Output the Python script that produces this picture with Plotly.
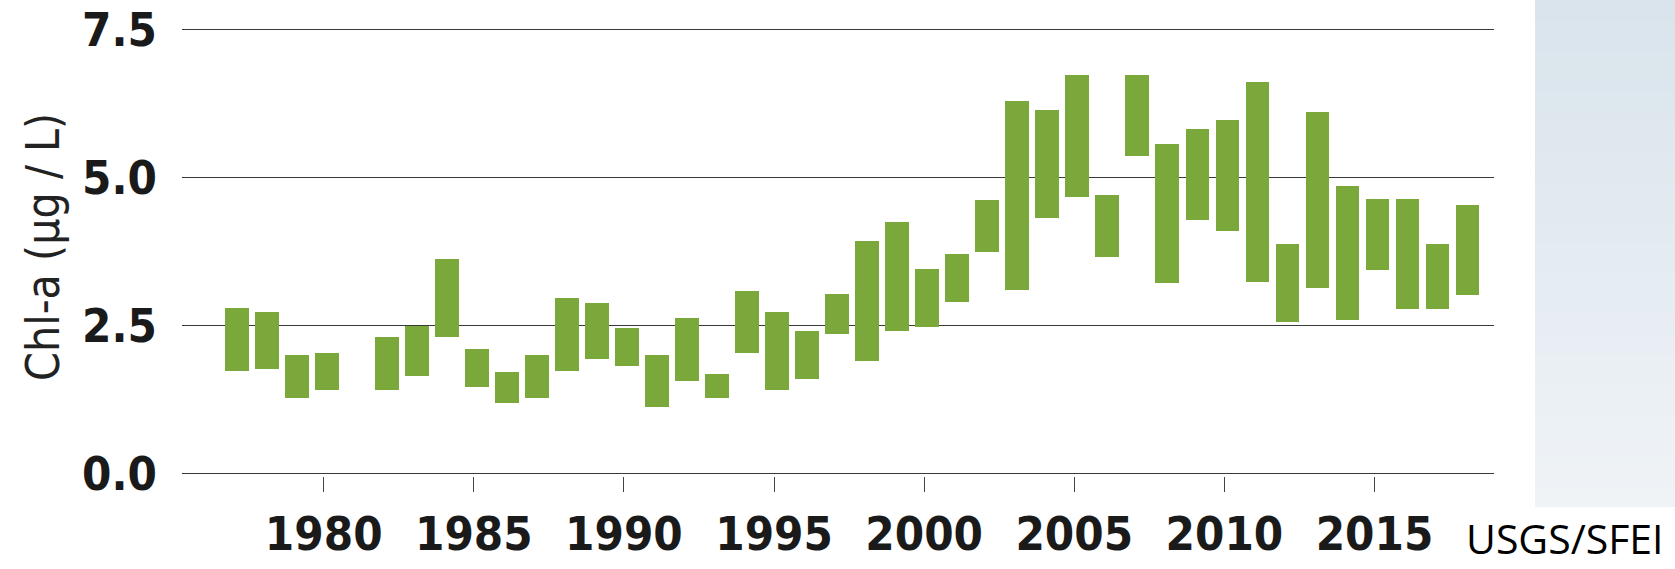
import plotly.graph_objects as go

# Annual chlorophyll-a range (low / high), µg/L
years = [1977, 1978, 1979, 1980, 1982, 1983, 1984, 1985, 1986, 1987, 1988,
         1989, 1990, 1991, 1992, 1993, 1994, 1995, 1996, 1997, 1998, 1999,
         2000, 2001, 2002, 2003, 2004, 2005, 2006, 2007, 2008, 2009, 2010,
         2011, 2012, 2013, 2014, 2015, 2016, 2017, 2018]
chl_low = [1.73, 1.76, 1.27, 1.42, 1.42, 1.65, 2.30, 1.47, 1.20, 1.27, 1.73,
           1.93, 1.82, 1.12, 1.56, 1.27, 2.04, 1.41, 1.60, 2.35, 1.90, 2.41,
           2.47, 2.89, 3.74, 3.10, 4.32, 4.67, 3.66, 5.37, 3.21, 4.28, 4.09,
           3.24, 2.56, 3.14, 2.60, 3.43, 2.78, 2.78, 3.02]
chl_high = [2.79, 2.73, 2.00, 2.03, 2.30, 2.50, 3.62, 2.11, 1.71, 2.00, 2.96,
            2.88, 2.46, 2.00, 2.62, 1.68, 3.09, 2.73, 2.40, 3.03, 3.92, 4.25,
            3.45, 3.70, 4.62, 6.29, 6.14, 6.73, 4.71, 6.73, 5.57, 5.82, 5.97,
            6.62, 3.88, 6.10, 4.86, 4.64, 4.64, 3.87, 4.54]

x_ticks = [1980, 1985, 1990, 1995, 2000, 2005, 2010, 2015]
y_ticks = [0.0, 2.5, 5.0, 7.5]
y_tick_text = ["0.0", "2.5", "5.0", "7.5"]

W, H = 1675, 569
ML, MR, MT, MB = 182, 181, 27, 93
PW, PH = W - ML - MR, H - MT - MB

def px_to_paper_x(px):
    return (px - ML) / PW

def px_to_paper_y(py):
    return (H - MB - py) / PH

NARROW = "Liberation Sans Narrow, DejaVu Sans Condensed, Arial Narrow, sans-serif"

fig = go.Figure()
fig.add_trace(go.Bar(
    x=years,
    y=[h - l for l, h in zip(chl_low, chl_high)],
    base=chl_low,
    width=0.79,
    offset=-0.295,
    marker=dict(color="#7ba83b", line=dict(width=0)),
    hovertemplate="%{x}: %{base:.2f}–%{y:.2f}<extra></extra>",
))

# Shaded side panel with a soft vertical gradient
top_rgb = (217, 228, 236)
bot_rgb = (239, 243, 246)
n_bands = 50
panel_top, panel_bot = 0, 507
panel_left, panel_right = 1535, W
shapes = []
for i in range(n_bands):
    t = i / (n_bands - 1)
    c = tuple(round(a + (b - a) * t) for a, b in zip(top_rgb, bot_rgb))
    y0 = panel_top + (panel_bot - panel_top) * i / n_bands
    y1 = panel_top + (panel_bot - panel_top) * (i + 1) / n_bands + 0.6
    shapes.append(dict(
        type="rect", xref="paper", yref="paper",
        x0=px_to_paper_x(panel_left), x1=px_to_paper_x(panel_right),
        y0=px_to_paper_y(min(y1, panel_bot)), y1=px_to_paper_y(y0),
        fillcolor="rgb(%d,%d,%d)" % c, line=dict(width=0), layer="below",
    ))

fig.update_layout(
    width=W, height=H,
    margin=dict(l=ML, r=MR, t=MT, b=MB, autoexpand=False),
    paper_bgcolor="white",
    plot_bgcolor="white",
    showlegend=False,
    bargap=0,
    shapes=shapes,
    xaxis=dict(
        range=[1975.28, 2018.98],
        tickvals=x_ticks,
        ticks="outside", ticklen=15, tickwidth=1.3, tickcolor="#444444",
        showgrid=False, zeroline=False, showline=False, automargin=False,
        tickfont=dict(family=NARROW, size=47, color="#1a1a1a", weight="bold"),
        ticklabelstandoff=2,
    ),
    yaxis=dict(
        range=[-0.04, 7.54],
        tickvals=y_ticks, ticktext=y_tick_text,
        showgrid=True, gridcolor="#3a3a3a", gridwidth=1.4,
        zeroline=False, showline=False, ticks="", automargin=False,
        tickfont=dict(family=NARROW, size=47, color="#1a1a1a", weight="bold"),
        ticklabelstandoff=24,
    ),
    annotations=[
        dict(
            text="Chl-a (µg / L)", textangle=-90,
            xref="paper", yref="paper",
            x=px_to_paper_x(43), y=px_to_paper_y(247),
            xanchor="center", yanchor="middle", showarrow=False,
            font=dict(family=NARROW, size=46, color="#222222"),
        ),
        dict(
            text="USGS/SFEI",
            xref="paper", yref="paper",
            x=px_to_paper_x(1464), y=px_to_paper_y(538),
            xanchor="left", yanchor="middle", showarrow=False,
            font=dict(family="Open Sans, Noto Sans, sans-serif", size=41, color="#000000"),
        ),
    ],
)

fig.write_html("out.html")
